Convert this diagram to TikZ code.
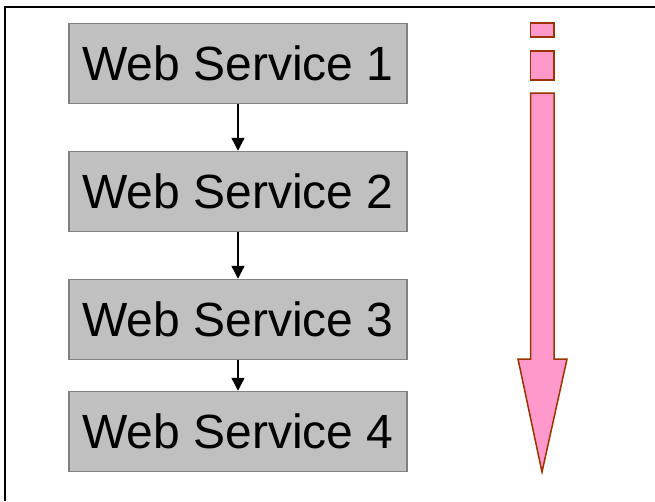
\documentclass[tikz,border=0pt]{standalone}
\usepackage{fontspec}
\setmainfont{Liberation Sans}
\usetikzlibrary{arrows.meta}
\definecolor{boxfill}{HTML}{C0C0C0}
\definecolor{boxline}{HTML}{808080}
\definecolor{pinkfill}{HTML}{FF99CC}
\definecolor{pinkline}{HTML}{993300}
\tikzset{
  wsbox/.style={draw=boxline, line width=1.5pt, fill=boxfill, minimum width=338pt, minimum height=80pt, inner sep=0pt,
    font=\fontsize{48}{57}\selectfont},
  flow/.style={line width=1.3pt, -{Triangle[width=13pt,length=13pt]}},
  pinkpart/.style={draw=pinkline, fill=pinkfill, line width=1.5pt, line join=miter}
}
\begin{document}
\begin{tikzpicture}[x=1pt,y=-1pt]
\useasboundingbox (0,0) rectangle (655,501);
% frame
\draw[line width=2pt] (655,7) -- (5,7) -- (5,501);
% boxes
\node[wsbox] (ws1) at (238,63.5) {Web Service 1};
\node[wsbox] (ws2) at (238,191.5) {Web Service 2};
\node[wsbox] (ws3) at (238,319.5) {Web Service 3};
\node[wsbox] (ws4) at (238,431.5) {Web Service 4};
\draw[flow] (ws1) -- (ws2);
\draw[flow] (ws2) -- (ws3);
\draw[flow] (ws3) -- (ws4);
% pink arrow
\draw[pinkpart] (530.5,23) rectangle (554,37);
\draw[pinkpart] (530.5,51) rectangle (554,80);
\draw[pinkpart] (530.5,93) -- (554,93) -- (554,359) -- (567,359) -- (542,472) -- (518,359) -- (530.5,359) -- cycle;
\end{tikzpicture}
\end{document}
